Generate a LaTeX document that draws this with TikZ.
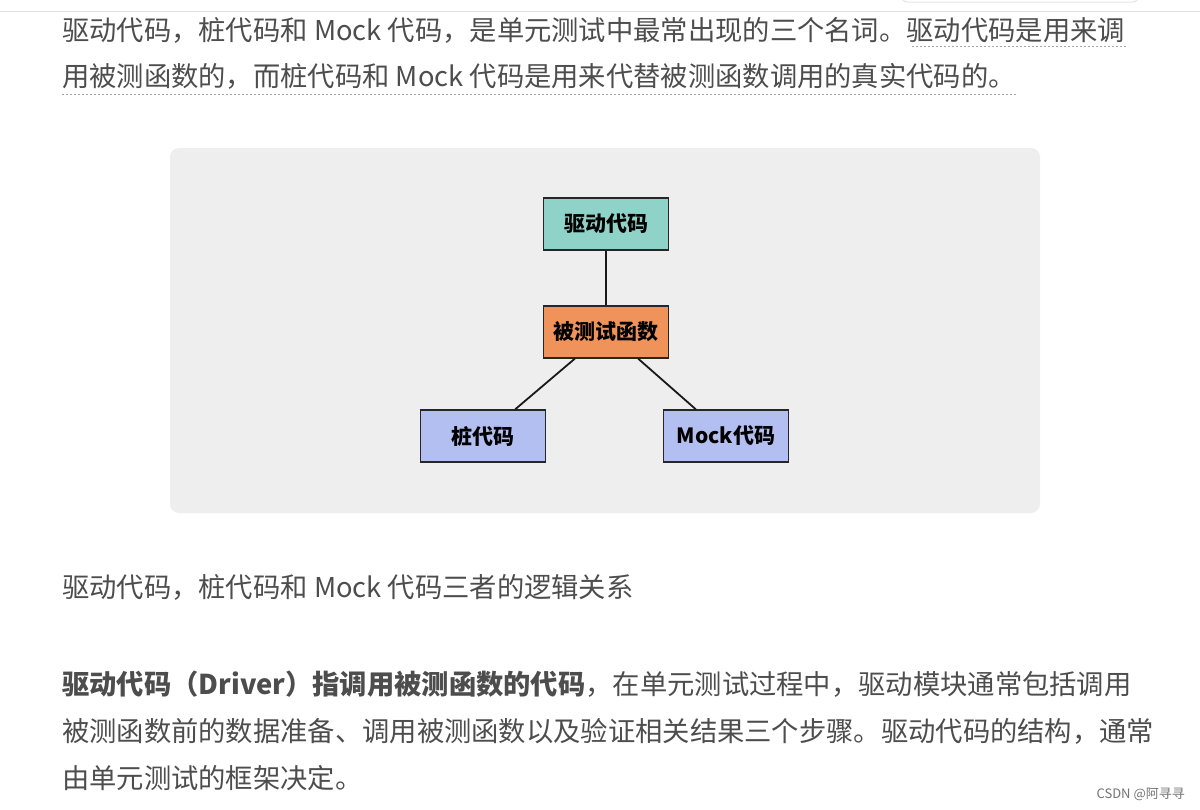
\documentclass[tikz,border=0pt]{standalone}
\usepackage{fontspec}
\setmainfont{Noto Sans CJK SC}
\definecolor{txt}{HTML}{4D4D4D}
\definecolor{bgbox}{HTML}{EEEEEE}
\definecolor{teal}{HTML}{8FD3C8}
\definecolor{orng}{HTML}{F0935A}
\definecolor{blu}{HTML}{B3BFF0}
\tikzset{
 line/.style={anchor=base west,inner sep=0pt,text=txt,font=\fontsize{27.3}{27.3}\selectfont},
 box/.style={draw=black!85,line width=1.4pt,minimum width=125pt,minimum height=52pt,inner sep=0pt,font=\fontsize{21}{21}\selectfont\bfseries},
 conn/.style={line width=1.8pt,black!90}
}
\begin{document}
\begin{tikzpicture}[x=1pt,y=-1pt]
\useasboundingbox[fill=white] (0,0) rectangle (1200,809);
\draw[black!12,line width=1pt] (0,11) -- (1200,11);
\draw[black!10,line width=1pt,rounded corners=8pt] (900,-12) rectangle (1140,2);
\node[line] (l1) at (62,40) {驱动代码，桩代码和 Mock 代码，是单元测试中最常出现的三个名词。驱动代码是用来调};
\node[line] (l2) at (62,86) {用被测函数的，而桩代码和 Mock 代码是用来代替被测函数调用的真实代码的。};
\draw[black!35,dash pattern=on 2pt off 2pt,line width=0.8pt] (912,46) -- (1128,46);
\draw[black!35,dash pattern=on 2pt off 2pt,line width=0.8pt] (62,94) -- (1018,94);
\fill[bgbox,rounded corners=9pt] (170,148) rectangle (1040,513);
\node[box,fill=teal] (drv) at (606,224) {驱动代码};
\node[box,fill=orng] (fut) at (606,332) {被测试函数};
\node[box,fill=blu] (stub) at (483,436) {桩代码};
\node[box,fill=blu] (mock) at (726,436) {Mock代码};
\coordinate (a) at ([xshift=32pt]fut.south west);
\coordinate (b) at ([xshift=-31pt]stub.north east);
\coordinate (c) at ([xshift=-31pt]fut.south east);
\coordinate (d) at ([xshift=33pt]mock.north west);
\draw[conn] (drv.south) -- (fut.north);
\draw[conn] (a) -- (b);
\draw[conn] (c) -- (d);
\node[line] (cap) at (62,597) {驱动代码，桩代码和 Mock 代码三者的逻辑关系};
\node[line] (p1) at (62,694) {\textbf{驱动代码（Driver）指调用被测函数的代码}，在单元测试过程中，驱动模块通常包括调用};
\node[line] (p2) at (62,741) {被测函数前的数据准备、调用被测函数以及验证相关结果三个步骤。驱动代码的结构，通常};
\node[line] (p3) at (62,788) {由单元测试的框架决定。};
\node[anchor=base east,inner sep=0pt,text=black!55,font=\fontsize{13}{13}\selectfont] (wm) at (1185,798) {CSDN @阿寻寻};
\end{tikzpicture}
\end{document}
